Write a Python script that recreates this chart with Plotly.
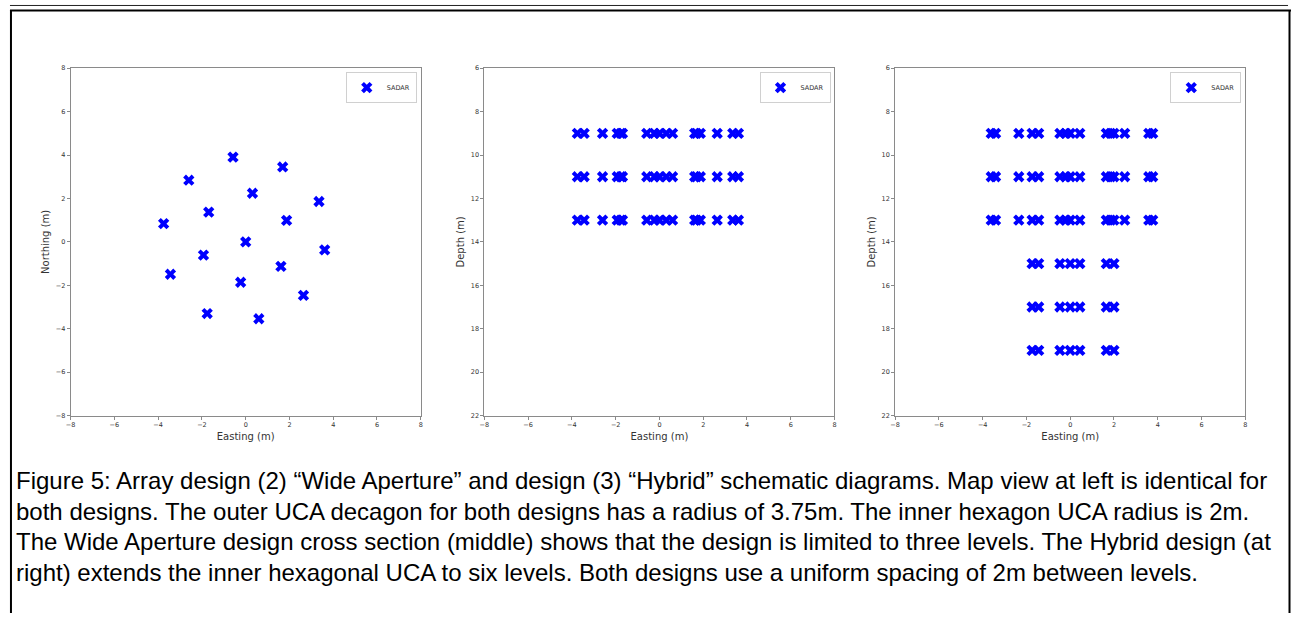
import plotly.graph_objects as go

W, H = 1293, 617

# ---- data ----
# Map view (panel 1): receiver positions (m)
map_east = [-0.58, 1.69, -2.60, 0.31, 3.35, -1.69, 1.87, -3.75, 0.00,
            3.61, -1.93, 1.61, -3.44, -0.23, 2.64, -1.76, 0.60]
map_north = [3.90, 3.45, 2.84, 2.24, 1.86, 1.37, 0.99, 0.84, 0.00,
             -0.37, -0.61, -1.13, -1.49, -1.86, -2.46, -3.30, -3.54]

# Wide aperture cross-section (panel 2): same eastings at three levels
wide_levels = [9, 11, 13]

# Hybrid cross-section (panel 3)
hyb_upper_east = [-3.61, -3.41, -2.35, -1.74, -1.44, -0.47, -0.20, 0.00,
                  0.44, 1.65, 1.85, 2.00, 2.49, 3.59, 3.77]
hyb_upper_levels = [9, 11, 13]
hyb_lower_east = [-1.74, -1.44, -0.47, 0.00, 0.44, 1.65, 2.00]
hyb_lower_levels = [15, 17, 19]

xticks = [-8, -6, -4, -2, 0, 2, 4, 6, 8]
north_ticks = [-8, -6, -4, -2, 0, 2, 4, 6, 8]
depth_ticks = [6, 8, 10, 12, 14, 16, 18, 20, 22]
legend_label = "SADAR"

caption_lines = [
    "Figure 5: Array design (2) \u201cWide Aperture\u201d and design (3) \u201cHybrid\u201d schematic diagrams. Map view at left is identical for",
    "both designs. The outer UCA decagon for both designs has a radius of 3.75m. The inner hexagon UCA radius is 2m.",
    "The Wide Aperture design cross section (middle) shows that the design is limited to three levels. The Hybrid design (at",
    "right) extends the inner hexagonal UCA to six levels. Both designs use a uniform spacing of 2m between levels.",
]

# ---- build ----
def px_x(p):
    return p / W

def px_y(p):
    return 1 - p / H

panels = [(66, 418), (482, 834), (895, 1247)]
top_px, bot_px = 65, 417

wide_x, wide_y = [], []
for lv in wide_levels:
    wide_x += map_east
    wide_y += [lv] * len(map_east)

hyb_x, hyb_y = [], []
for lv in hyb_upper_levels:
    hyb_x += hyb_upper_east
    hyb_y += [lv] * len(hyb_upper_east)
for lv in hyb_lower_levels:
    hyb_x += hyb_lower_east
    hyb_y += [lv] * len(hyb_lower_east)

marker = dict(symbol="x", size=10, color="#0000ff", line=dict(width=0))

fig = go.Figure()
fig.add_trace(go.Scatter(x=map_east, y=map_north, mode="markers", marker=marker,
                         name=legend_label, xaxis="x", yaxis="y", legend="legend"))
fig.add_trace(go.Scatter(x=wide_x, y=wide_y, mode="markers", marker=marker,
                         name=legend_label, xaxis="x2", yaxis="y2", legend="legend2"))
fig.add_trace(go.Scatter(x=hyb_x, y=hyb_y, mode="markers", marker=marker,
                         name=legend_label, xaxis="x3", yaxis="y3", legend="legend3"))

axis_common = dict(
    showline=True, linecolor="#8a8a8a", linewidth=1, mirror=True,
    ticks="outside", ticklen=3, tickwidth=1, tickcolor="#8a8a8a",
    showgrid=False, zeroline=False,
    tickfont=dict(family="DejaVu Sans", size=6.5, color="#333333"),
)
title_font = dict(family="DejaVu Sans", size=10, color="#333333")

layout = dict(
    width=W, height=H, autosize=False,
    margin=dict(l=0, r=0, t=0, b=0),
    paper_bgcolor="white", plot_bgcolor="white",
    showlegend=True,
)

ynames = ["yaxis", "yaxis2", "yaxis3"]
xnames = ["xaxis", "xaxis2", "xaxis3"]
for i, (l, r) in enumerate(panels):
    anchor_y = "y" if i == 0 else f"y{i+1}"
    anchor_x = "x" if i == 0 else f"x{i+1}"
    layout[xnames[i]] = dict(
        axis_common, domain=[px_x(l), px_x(r)], anchor=anchor_y,
        range=[-8, 8], tickvals=xticks,
        title=dict(text="Easting (m)", font=title_font, standoff=4),
    )
    if i == 0:
        layout[ynames[i]] = dict(
            axis_common, domain=[px_y(bot_px), px_y(top_px)], anchor=anchor_x,
            range=[-8, 8], tickvals=north_ticks,
            title=dict(text="Northing (m)", font=title_font, standoff=4),
        )
    else:
        layout[ynames[i]] = dict(
            axis_common, domain=[px_y(bot_px), px_y(top_px)], anchor=anchor_x,
            range=[22, 6], tickvals=depth_ticks,
            title=dict(text="Depth (m)", font=title_font, standoff=4),
        )
    lname = "legend" if i == 0 else f"legend{i+1}"
    layout[lname] = dict(
        x=px_x(r - 4), y=px_y(top_px + 4), xanchor="right", yanchor="top",
        bgcolor="white", bordercolor="#d0d0d0", borderwidth=1,
        font=dict(family="DejaVu Sans", size=6.5, color="#333333"),
        itemwidth=30, tracegroupgap=0,
    )

fig.update_layout(**layout)

# page border lines
shapes = [
    dict(type="line", xref="paper", yref="paper", x0=px_x(5), x1=px_x(1290),
         y0=px_y(1.5), y1=px_y(1.5), line=dict(color="#222222", width=1)),
    dict(type="line", xref="paper", yref="paper", x0=px_x(5), x1=px_x(1293),
         y0=px_y(6.5), y1=px_y(6.5), line=dict(color="black", width=2)),
    dict(type="line", xref="paper", yref="paper", x0=px_x(6), x1=px_x(6),
         y0=px_y(6), y1=0, line=dict(color="black", width=2)),
    dict(type="line", xref="paper", yref="paper", x0=px_x(1291.5), x1=px_x(1291.5),
         y0=px_y(6), y1=0, line=dict(color="black", width=2)),
]
fig.update_layout(shapes=shapes)

# caption, one annotation per line so spacing can be set
caption_top = 483
caption_step = 31
for k, line in enumerate(caption_lines):
    fig.add_annotation(
        text=line, xref="paper", yref="paper",
        x=px_x(9), y=px_y(caption_top + k * caption_step),
        xanchor="left", yanchor="middle", align="left", showarrow=False,
        font=dict(family="Liberation Sans, Arial", size=24, color="black"),
    )

post_js = (
    "document.body.style.margin='0';"
    "document.body.style.padding='0';"
    "document.body.style.overflow='hidden';"
    "document.documentElement.style.overflow='hidden';"
)

fig.write_html("out.html", post_script=post_js,
               config={"displayModeBar": False})
